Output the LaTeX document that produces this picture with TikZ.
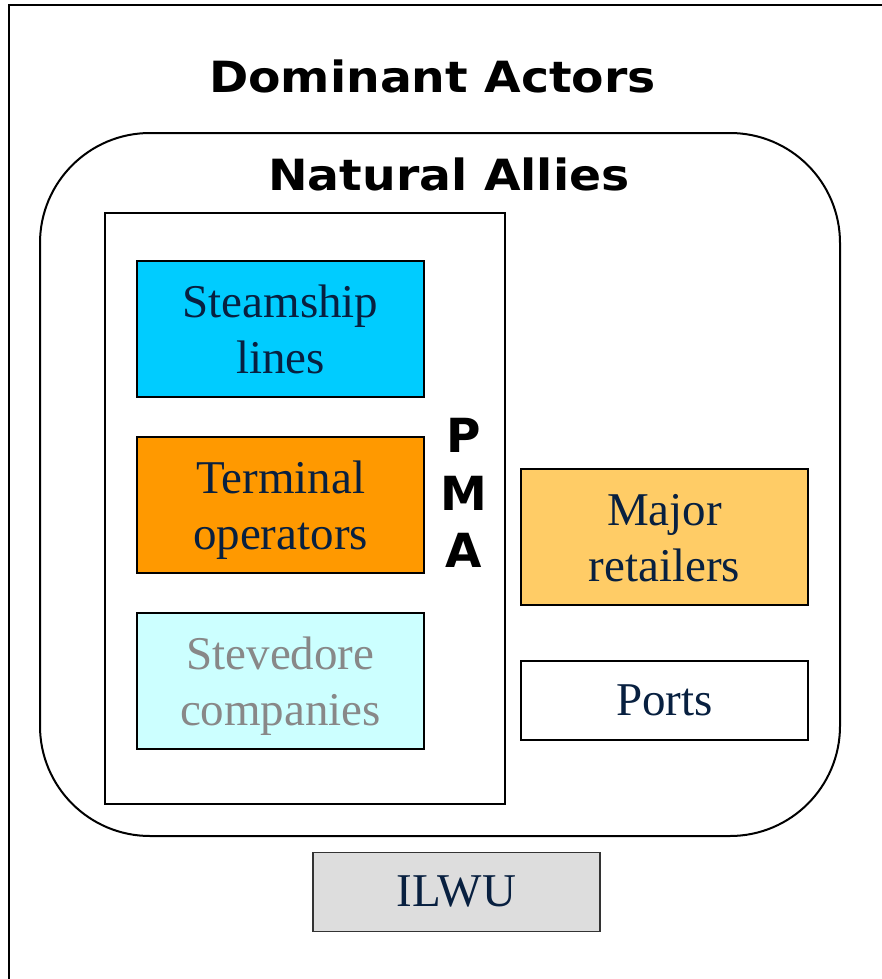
\documentclass[tikz,border=0pt]{standalone}
\usepackage{fontspec}
\usepackage{graphicx}
\setmainfont{Liberation Serif}
\newfontfamily\hdfont{DejaVu Sans}
\definecolor{navytxt}{RGB}{8,32,64}
\definecolor{steamfill}{RGB}{0,204,255}
\definecolor{termfill}{RGB}{255,153,0}
\definecolor{stevefill}{RGB}{204,255,255}
\definecolor{stevetxt}{RGB}{136,136,136}
\definecolor{retailfill}{RGB}{255,204,102}
\definecolor{ilwufill}{RGB}{221,221,221}
\tikzset{
  actorbox/.style={draw=black, line width=1.5pt, inner sep=0pt, minimum width=287pt,
    align=center, text=navytxt, font=\fontsize{47}{56}\selectfont},
  twoline/.style={minimum height=136pt, text height=93pt, text depth=5pt},
  oneline/.style={minimum height=79pt, text height=36pt, text depth=7pt},
  headtext/.style={anchor=base, inner sep=0pt, font=\hdfont\bfseries\fontsize{43}{50}\selectfont},
  pmaletter/.style={anchor=base, inner sep=0pt, font=\hdfont\bfseries\fontsize{47}{56}\selectfont}
}
\begin{document}
\begin{tikzpicture}[x=1pt, y=-1pt]
\useasboundingbox (0,0) rectangle (881,979);
\fill[white] (0,0) rectangle (881,979);
% outer frame (extends past the right and bottom edges)
\draw[line width=2pt] (884,5) -- (9,5) -- (9,982);
\node[headtext] (dom) at (432.5,93) {\scalebox{1.1}[1]{Dominant Actors}};
% natural allies rounded box
\draw[line width=2pt, rounded corners=110pt] (40,133) rectangle (840,836);
\node[headtext] (nat) at (449,190) {\scalebox{1.1}[1]{Natural Allies}};
% PMA box
\draw[line width=1.8pt] (105,213) rectangle (505,804);
\node[actorbox, twoline, fill=steamfill] (steam) at (280.5,329) {Steamship\\lines};
\node[actorbox, twoline, fill=termfill] (term) at (280.5,505) {Terminal\\operators};
\node[actorbox, twoline, fill=stevefill, text=stevetxt] (steve) at (280.5,681) {Stevedore\\companies};
\node[pmaletter] (pmaP) at (464,452) {P};
\node[pmaletter] (pmaM) at (464,510) {M};
\node[pmaletter] (pmaA) at (464,567) {A};
\node[actorbox, twoline, fill=retailfill] (retail) at (664.5,537) {Major\\retailers};
\node[actorbox, oneline, fill=white] (ports) at (664.5,700.5) {Ports};
\node[actorbox, oneline, fill=ilwufill, draw=black!80, line width=1.2pt] (ilwu) at (456.5,892) {ILWU};
\end{tikzpicture}
\end{document}
